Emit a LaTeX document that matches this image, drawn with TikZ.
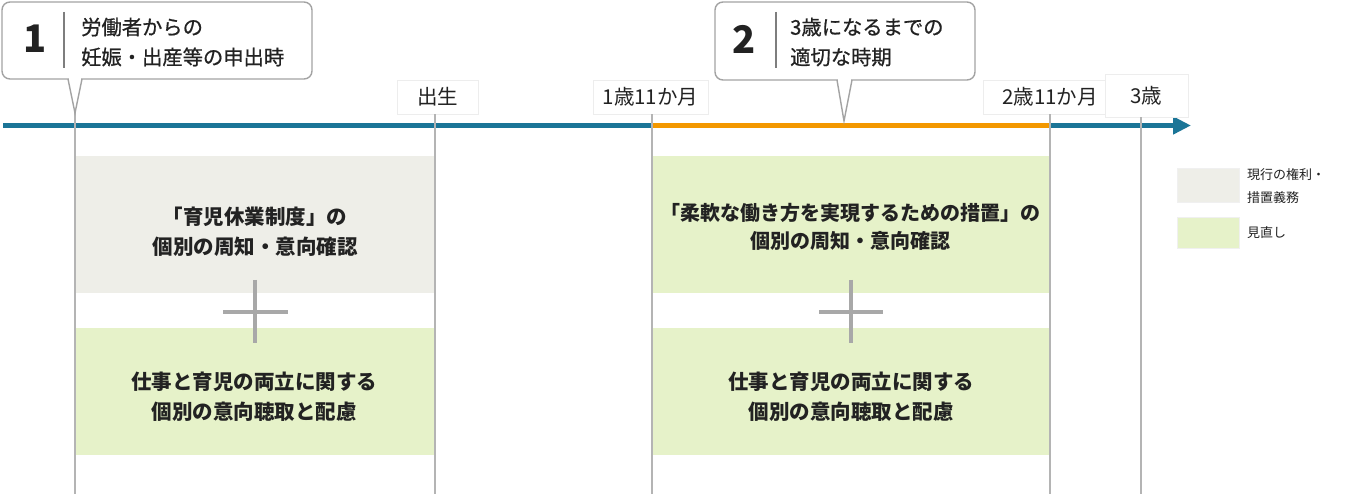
\documentclass[tikz,border=0pt]{standalone}
\usepackage{fontspec}
\setmainfont{Noto Sans CJK JP}
\newfontfamily\jpmed{Noto Sans CJK JP}[FakeBold=0.7]
\usetikzlibrary{arrows.meta}
\definecolor{axisblue}{HTML}{1B7597}
\definecolor{axisorange}{HTML}{F39800}
\definecolor{grayfill}{HTML}{EEEEE8}
\definecolor{greenfill}{HTML}{E6F2C9}
\definecolor{vlinecol}{HTML}{B4B4B4}
\definecolor{calloutcol}{HTML}{A3A3A3}
\definecolor{pluscol}{HTML}{A8A8A8}
\definecolor{textcol}{HTML}{222222}
\tikzset{
  callout/.style={draw=calloutcol, line width=1.4pt},
  vline/.style={draw=vlinecol, line width=1.8pt},
  plusline/.style={draw=pluscol, line width=4pt},
  boxshape/.style={draw=none, inner sep=0pt, minimum width=#1},
  boxtext/.style={text=textcol, font=\bfseries\fontsize{20.5}{30}\selectfont, align=center, inner sep=0pt},
  ctext/.style={text=textcol, font=\jpmed\fontsize{20.3}{30}\selectfont, align=left, inner sep=0pt, anchor=west},
  numtext/.style={text=textcol, font=\bfseries\fontsize{38}{38}\selectfont, inner sep=0pt},
  tlabel/.style={fill=white, draw=black!7, line width=0.8pt, text=textcol, font=\fontsize{20.5}{24}\selectfont, inner sep=0pt},
  swatch/.style={draw=black!6, line width=0.8pt, inner sep=0pt, minimum width=62pt},
  legtext/.style={text=textcol, font=\fontsize{13}{23}\selectfont, align=left, inner sep=0pt, anchor=west}
}
\begin{document}
\begin{tikzpicture}[x=1pt, y=-1pt]
\useasboundingbox[fill=white] (0,0) rectangle (1360,494);

% boxes
\node[boxshape=360pt, fill=grayfill, minimum height=137pt] (b1top) at (255,224.5) {};
\node[boxshape=360pt, fill=greenfill, minimum height=127pt] (b1bot) at (255,391.5) {};
\node[boxshape=398pt, fill=greenfill, minimum height=137pt] (b2top) at (851,224.5) {};
\node[boxshape=398pt, fill=greenfill, minimum height=127pt] (b2bot) at (851,391.5) {};

\node[boxtext] (t1top) at (255,232) {「育児休業制度」の\\個別の周知・意向確認};
\node[boxtext] (t1bot) at (254,397) {仕事と育児の両立に関する\\個別の意向聴取と配慮};
\node[boxtext, font=\bfseries\fontsize{20}{28}\selectfont] (t2top) at (850,227) {「柔軟な働き方を実現するための措置」の\\個別の周知・意向確認};
\node[boxtext] (t2bot) at (851,397) {仕事と育児の両立に関する\\個別の意向聴取と配慮};

% plus signs
\draw[plusline] (223,312) -- (288,312);
\draw[plusline] (255,280) -- (255,343);
\draw[plusline] (819,312) -- (883,312);
\draw[plusline] (851,280) -- (851,343);

% axis
\coordinate (axstart) at (3,125.5);
\coordinate (axend) at (1191,125.5);
\coordinate (orstart) at (652,125.5);
\coordinate (orend) at (1050,125.5);
\draw[axisblue, line width=5pt, -{Triangle[length=18pt, width=17pt]}] (axstart) -- (axend);
\draw[axisorange, line width=5pt] (orstart) -- (orend);

% time labels
\node[tlabel, minimum width=81pt, minimum height=34pt] (born) at (437.5,97) {出生};
\node[tlabel, minimum width=115pt, minimum height=34pt] (m23) at (650.5,97) {1歳11か月};
\node[tlabel, minimum width=134pt, minimum height=34pt] (m35) at (1050,97) {2歳11か月};
\node[tlabel, minimum width=83pt, minimum height=43pt] (y3) at (1146.5,95.5) {3歳};

% vertical lines
\coordinate (bot75) at (75,494);
\coordinate (bot435) at (435,494);
\coordinate (bot652) at (652,494);
\coordinate (bot1050) at (1050,494);
\coordinate (bot1141) at (1141,494);
\coordinate (tip1) at (75,113);
\coordinate (tip2) at (844,121);
\draw[vline] (tip1) -- (bot75);
\draw[vline] (born.south -| bot435) -- (bot435);
\draw[vline] (m23.south -| bot652) -- (bot652);
\draw[vline] (m35.south -| bot1050) -- (bot1050);
\draw[vline] (y3.south -| bot1141) -- (bot1141);

% callout 1
\draw[callout, rounded corners=8pt, fill=white] (2,2) rectangle (312,79);
\fill[white] (68.8,76) rectangle (81.2,81);
\draw[callout, line join=miter] (68,79) -- (tip1) -- (82,79);
\draw[vlinecol!70!black, line width=1.4pt] (64,12) -- (64,68);
\node[numtext] (n1) at (35,39) {1};
\node[ctext] (c1) at (81,42) {労働者からの\\妊娠・出産等の申出時};

% callout 2
\draw[callout, rounded corners=8pt, fill=white] (715,2) rectangle (975,80);
\fill[white] (837.8,77) rectangle (851.2,82);
\draw[callout, line join=miter] (837,80) -- (tip2) -- (852,80);
\draw[vlinecol!70!black, line width=1.4pt] (776,12) -- (776,68);
\node[numtext] (n2) at (744,39) {2};
\node[ctext] (c2) at (790,42) {3歳になるまでの\\適切な時期};

% legend
\node[swatch, fill=grayfill, minimum height=34pt] (lg1) at (1208,185) {};
\node[swatch, fill=greenfill, minimum height=31pt] (lg2) at (1208,232.5) {};
\node[legtext] (lt1) at (1247,186.5) {現行の権利・\\措置義務};
\node[legtext] (lt2) at (1247,232.5) {見直し};
\end{tikzpicture}
\end{document}
